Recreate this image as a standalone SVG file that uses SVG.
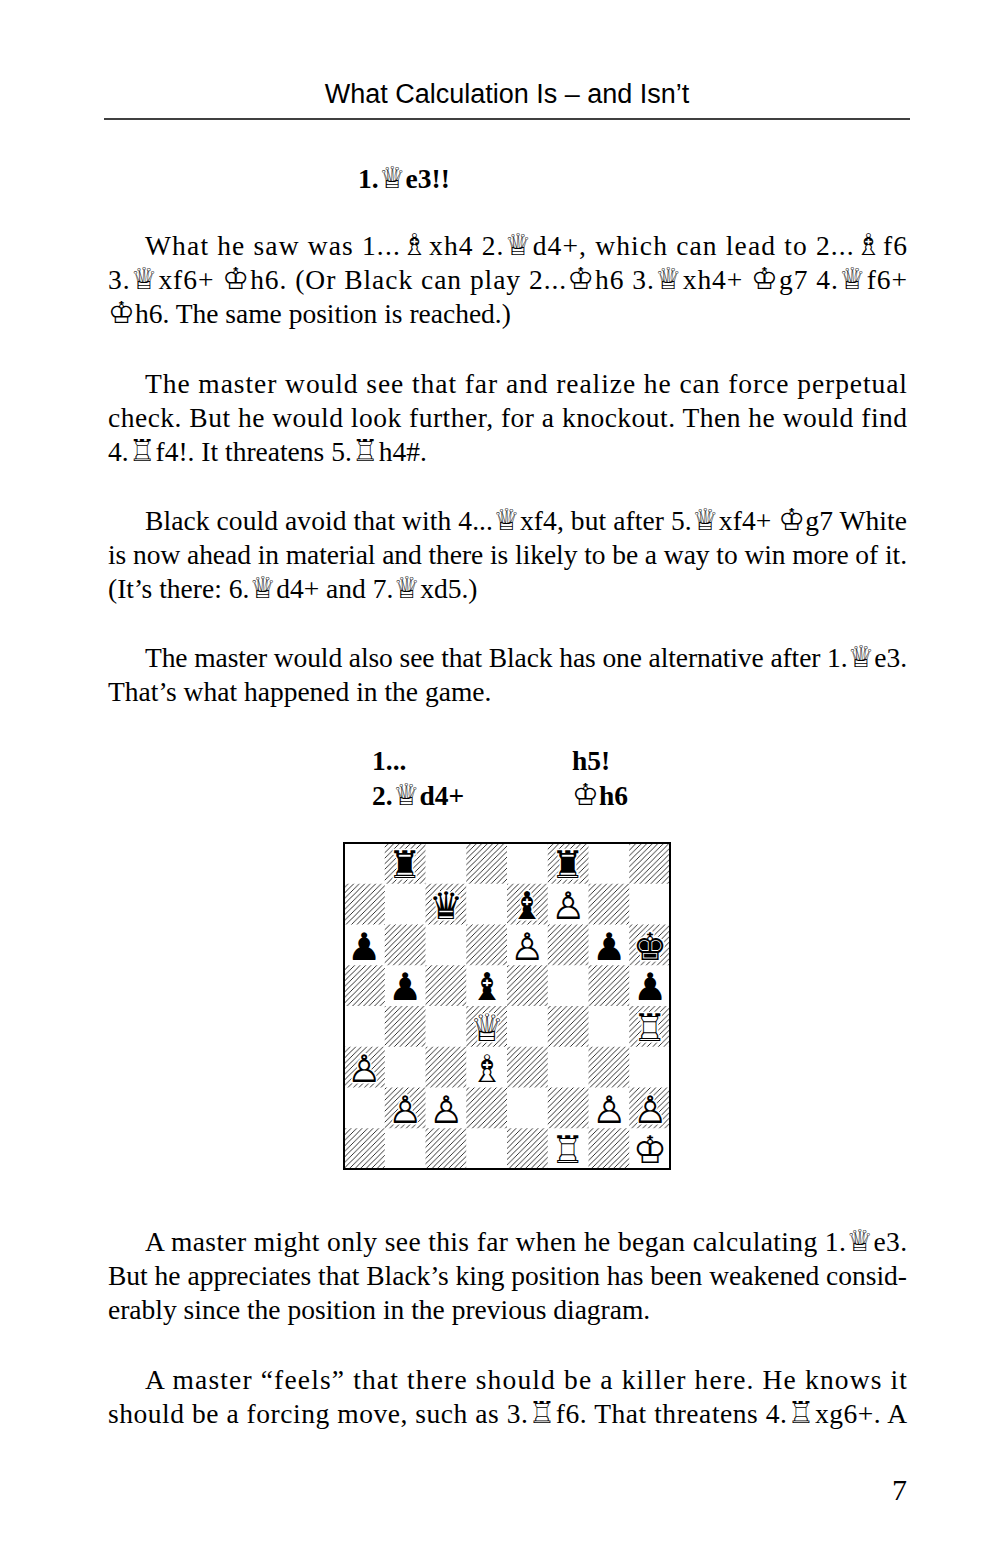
<svg xmlns="http://www.w3.org/2000/svg" width="1000" height="1546" viewBox="0 0 1000 1546">
<style>
.t{font-family:"Liberation Serif",serif;font-size:27.5px;fill:#000}
.b{font-weight:bold}
.f{font-family:"DejaVu Sans",sans-serif;font-size:30px;font-weight:normal}
.p{font-family:"DejaVu Sans",sans-serif;font-size:38px;text-anchor:middle}
.u{fill:#fff;stroke:#fff;stroke-width:3}
</style>
<defs>
<pattern id="h" patternUnits="userSpaceOnUse" width="5.5" height="5.5">
<path d="M-1,1 l2,-2 M0,5.5 l5.5,-5.5 M4.5,6.5 l2,-2" stroke="#000" stroke-width="0.8"/>
</pattern>
</defs>
<rect width="1000" height="1546" fill="#fff"/>
<g id="header">
<text x="507" y="103" text-anchor="middle" style="font-family:'Liberation Sans',sans-serif;font-size:27px">What Calculation Is – and Isn’t</text>
<line x1="104" y1="119" x2="910" y2="119" stroke="#000" stroke-width="1.5"/>
</g>
<g id="text">
<text class="t b" x="358" y="188">1.<tspan class="f">♕</tspan>e3!!</text>
<text class="t" x="145" y="255" textLength="762" lengthAdjust="spacing">What he saw was 1...<tspan class="f">♗</tspan>xh4 2.<tspan class="f">♕</tspan>d4+, which can lead to 2...<tspan class="f">♗</tspan>f6</text>
<text class="t" x="108" y="289" textLength="799" lengthAdjust="spacing">3.<tspan class="f">♕</tspan>xf6+ <tspan class="f">♔</tspan>h6. (Or Black can play 2...<tspan class="f">♔</tspan>h6 3.<tspan class="f">♕</tspan>xh4+ <tspan class="f">♔</tspan>g7 4.<tspan class="f">♕</tspan>f6+</text>
<text class="t" x="108" y="323"><tspan class="f">♔</tspan>h6. The same position is reached.)</text>
<text class="t" x="145" y="393" textLength="762" lengthAdjust="spacing">The master would see that far and realize he can force perpetual</text>
<text class="t" x="108" y="427" textLength="799" lengthAdjust="spacing">check. But he would look further, for a knockout. Then he would find</text>
<text class="t" x="108" y="461">4.<tspan class="f">♖</tspan>f4!. It threatens 5.<tspan class="f">♖</tspan>h4#.</text>
<text class="t" x="145" y="530" textLength="762" lengthAdjust="spacing">Black could avoid that with 4...<tspan class="f">♕</tspan>xf4, but after 5.<tspan class="f">♕</tspan>xf4+ <tspan class="f">♔</tspan>g7 White</text>
<text class="t" x="108" y="564" textLength="799" lengthAdjust="spacing">is now ahead in material and there is likely to be a way to win more of it.</text>
<text class="t" x="108" y="598">(It’s there: 6.<tspan class="f">♕</tspan>d4+ and 7.<tspan class="f">♕</tspan>xd5.)</text>
<text class="t" x="145" y="667" textLength="762" lengthAdjust="spacing">The master would also see that Black has one alternative after 1.<tspan class="f">♕</tspan>e3.</text>
<text class="t" x="108" y="701">That’s what happened in the game.</text>
<text class="t b" x="372" y="770">1...</text>
<text class="t b" x="572" y="770">h5!</text>
<text class="t b" x="372" y="805">2.<tspan class="f">♕</tspan>d4+</text>
<text class="t b" x="572" y="805"><tspan class="f">♔</tspan>h6</text>
<text class="t" x="145" y="1251" textLength="762" lengthAdjust="spacing">A master might only see this far when he began calculating 1.<tspan class="f">♕</tspan>e3.</text>
<text class="t" x="108" y="1285" textLength="799" lengthAdjust="spacing">But he appreciates that Black’s king position has been weakened consid-</text>
<text class="t" x="108" y="1319">erably since the position in the previous diagram.</text>
<text class="t" x="145" y="1389" textLength="762" lengthAdjust="spacing">A master “feels” that there should be a killer here. He knows it</text>
<text class="t" x="108" y="1423" textLength="799" lengthAdjust="spacing">should be a forcing move, such as 3.<tspan class="f">♖</tspan>f6. That threatens 4.<tspan class="f">♖</tspan>xg6+. A</text>
<text class="t" x="907" y="1500" text-anchor="end" style="font-size:30px">7</text>
</g>
<g id="board">
<g fill="url(#h)">
<rect x="384.75" y="843" width="40.75" height="40.75"/><rect x="466.25" y="843" width="40.75" height="40.75"/><rect x="547.75" y="843" width="40.75" height="40.75"/><rect x="629.25" y="843" width="40.75" height="40.75"/>
<rect x="344" y="883.75" width="40.75" height="40.75"/><rect x="425.5" y="883.75" width="40.75" height="40.75"/><rect x="507" y="883.75" width="40.75" height="40.75"/><rect x="588.5" y="883.75" width="40.75" height="40.75"/>
<rect x="384.75" y="924.5" width="40.75" height="40.75"/><rect x="466.25" y="924.5" width="40.75" height="40.75"/><rect x="547.75" y="924.5" width="40.75" height="40.75"/><rect x="629.25" y="924.5" width="40.75" height="40.75"/>
<rect x="344" y="965.25" width="40.75" height="40.75"/><rect x="425.5" y="965.25" width="40.75" height="40.75"/><rect x="507" y="965.25" width="40.75" height="40.75"/><rect x="588.5" y="965.25" width="40.75" height="40.75"/>
<rect x="384.75" y="1006" width="40.75" height="40.75"/><rect x="466.25" y="1006" width="40.75" height="40.75"/><rect x="547.75" y="1006" width="40.75" height="40.75"/><rect x="629.25" y="1006" width="40.75" height="40.75"/>
<rect x="344" y="1046.75" width="40.75" height="40.75"/><rect x="425.5" y="1046.75" width="40.75" height="40.75"/><rect x="507" y="1046.75" width="40.75" height="40.75"/><rect x="588.5" y="1046.75" width="40.75" height="40.75"/>
<rect x="384.75" y="1087.5" width="40.75" height="40.75"/><rect x="466.25" y="1087.5" width="40.75" height="40.75"/><rect x="547.75" y="1087.5" width="40.75" height="40.75"/><rect x="629.25" y="1087.5" width="40.75" height="40.75"/>
<rect x="344" y="1128.25" width="40.75" height="40.75"/><rect x="425.5" y="1128.25" width="40.75" height="40.75"/><rect x="507" y="1128.25" width="40.75" height="40.75"/><rect x="588.5" y="1128.25" width="40.75" height="40.75"/>
</g>
<rect x="344" y="843" width="326" height="326" fill="none" stroke="#000" stroke-width="2"/>
<g class="p u">
<text x="405" y="878">♜</text><text x="568" y="878">♜</text>
<text x="446" y="919">♛</text><text x="527" y="919">♝</text><text x="568" y="919">♟</text>
<text x="364" y="960">♟</text><text x="527" y="960">♟</text><text x="609" y="960">♟</text><text x="650" y="960">♚</text>
<text x="405" y="1000">♟</text><text x="487" y="1000">♝</text><text x="650" y="1000">♟</text>
<text x="487" y="1041">♛</text><text x="650" y="1041">♜</text>
<text x="364" y="1082">♟</text><text x="487" y="1082">♝</text>
<text x="405" y="1123">♟</text><text x="446" y="1123">♟</text><text x="609" y="1123">♟</text><text x="650" y="1123">♟</text>
<text x="568" y="1163">♜</text><text x="650" y="1163">♚</text>
</g>
<g class="p">
<text x="405" y="878">♜</text><text x="568" y="878">♜</text>
<text x="446" y="919">♛</text><text x="527" y="919">♝</text><text x="568" y="919">♙</text>
<text x="364" y="960">♟</text><text x="527" y="960">♙</text><text x="609" y="960">♟</text><text x="650" y="960">♚</text>
<text x="405" y="1000">♟</text><text x="487" y="1000">♝</text><text x="650" y="1000">♟</text>
<text x="487" y="1041">♕</text><text x="650" y="1041">♖</text>
<text x="364" y="1082">♙</text><text x="487" y="1082">♗</text>
<text x="405" y="1123">♙</text><text x="446" y="1123">♙</text><text x="609" y="1123">♙</text><text x="650" y="1123">♙</text>
<text x="568" y="1163">♖</text><text x="650" y="1163">♔</text>
</g>
</g>
</svg>
